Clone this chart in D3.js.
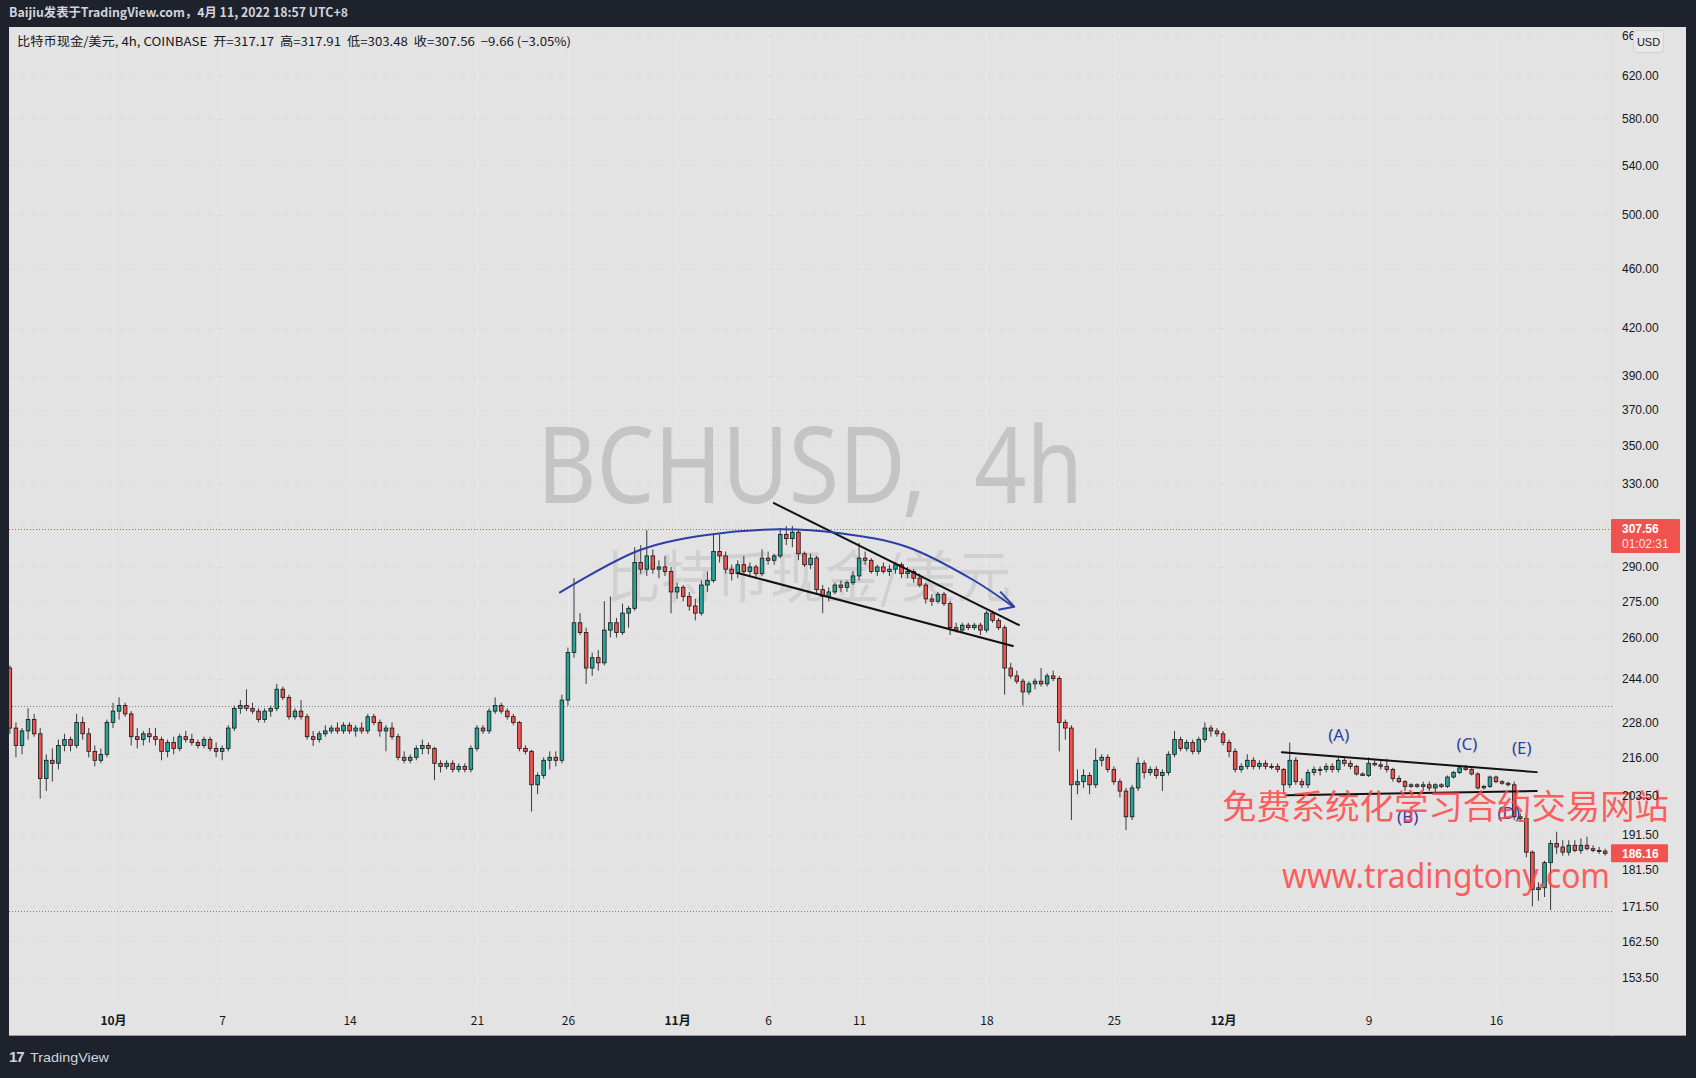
<!DOCTYPE html>
<html><head><meta charset="utf-8">
<script src="https://cdn.jsdelivr.net/npm/d3@7/dist/d3.min.js"></script>
<style>
html,body{margin:0;padding:0;background:#1e222d;}
svg{display:block;}
text.pre{white-space:pre;}
</style></head>
<body>
<svg id="c" width="1696" height="1078"></svg>
<script>
// ---------------- DATA (BCHUSD, 8h bars) ----------------
const barStartUTC = Date.UTC(2019, 8, 25, 8); // first bar
const barHours = 8;
const opens = [248,226,220,225,229,224,209,215,214,220,222,220,228,224,218,215,217,228,232,234,
231,223,222,224,223,222,218,221,219,223,222,221,220,222,219,218,219,226,233,234,
233,232,229,232,233,240,237,230,232,230,223,222,224,225,226,225,227,225,226,225,
230,228,225,226,223,216,215,216,219,220,219,214,213,214,212,213,212,219,226,225,
232,234,232,230,228,219,218,207,210,215,216,215,236,254,266,262,248,252,250,263,
266,262,270,272,292,289,295,289,290,288,279,281,277,273,270,282,284,297,295,289,
287,291,288,290,287,294,293,295,305,303,306,296,291,294,280,277,279,282,281,283,
286,294,293,288,290,288,289,291,287,288,285,282,276,275,278,274,264,263,265,264,
265,263,270,267,264,248,245,243,239,242,243,242,245,244,228,226,207,208,210,207,
215,216,212,208,205,197,206,214,211,212,210,211,217,222,219,221,218,222,226,225,
224,221,218,212,213,215,213,214,213,213,212,207,215,208,207,211,212,212,213,212,
215,214,213,210.5,210,214,213.5,213,212,209,208,206.5,207,206.5,207,206,207,206.5,209.5,211,
212.5,212,210.5,206,206.5,209.5,208,207.5,207,197,196.5,186.5,176,176.5,183.5,189,188,186.5,188.5,187,
188.5,187.5,187,186.8];
const highs = [249,228,226,233,231,226,217,219,222,224,223,231,230,226,220,219,229,235,237,235,
232,226,225,226,226,223,222,223,224,225,224,222,223,223,221,220,227,234,236,240,
235,233,233,234,242,241,238,233,236,231,225,225,227,227,228,228,228,227,228,231,
231,229,227,228,224,218,217,220,222,221,219.5,215,215,215,214,214,220,227,227,233,
237,235,233,231,228.5,220,218.5,211,216,218,218,238,256,285,270,264,254,255,275,277,
268,274,273,299,300,307,298,293,295,290,283,282,279,276,284,288,305,305,297,291,
293,295,292,291,298,297,296,308,309,309,307,297,296,295,282,281,283,284,284,288,
301,297,294,291,292,291,292,292,290,289,287,283,278,279,279,275,266,266,266,266,
266,271,271,268,265,250,247,244,243,244,248,246,247,245,229,227,212,212,211,219,
217,217,213,209,206,207,216,215,213,213,212,218,225,223,222,222,223,228,227,226,
225,222,219,214,217,216,215,215,214,214,212.5,221,216,209,212,213,213,214,214,216,
216,215,213.5,211,216,215,215,215.5,212.5,210,208.5,207.5,207.5,208,208,207.5,207.5,210,211.5,213.5,
213.5,212.5,211,207,210,210,208.5,208,208,198,197.5,187,178,184,190,192.5,190,190,190,190.5,
191,188.5,188,187.5];
const lows = [224,216,217,222,223,202.6,205,208,212,218,218,219,222,216,213,214,216,226,229,230,
220,219,220,221,220,215,216,217,218,221,220,219,219,218,216,215,218,225,231,232,
231,228,228,230,232,236,229,229,229,222,219.8,221,223,224,224,224,224,223,224,224,
227,223,218,222,215,214,214,215,217,217,208.5,211,212,211,211,211,211,218,224,224,
231,231,229,227,218,217,198.6,204,209,212,213,214,234,252,261,242,245,247,249,260,
260,261,264,271,287,286,287,285,286,270,276,275,271,267,269,279,283,292,287,284,
285,287,286,285,286,291,291,294,300,299,293,290,289,278,270,275,278,279,279,282,
284,291,287,286,287,286,287,285,285,283,281,274,273,274,273,261,262,262,263,263,
261,262,266,263,238,244,242,234,238,240,241,241,243,218,222,196,204,206,204,206,
213,211,207,203,193,196,205,209,210,209,205,210,216,218,218,217,217,221,223,223,
220,216,211,211,212,212,212,212,212,211,204,206,207,206,206,210,210,211,211,211,
213,212,210,210,209.5,213,212,211,208,207.5,205,206,206,205,205,204.5,206,206,209,210.5,
211.5,210,205.5,205.5,206,207.5,207,206.5,196,195.5,185,171.5,173,174,170.5,186,185.5,185.5,186.5,186,
187,186.5,186,185.5];
const closes = [226,220,225,229,224,209,215,214,220,222,220,228,224,218,215,217,228,232,234,231,
223,222,224,223,222,218,221,219,223,222,221,220,222,219,218,219,226,233,234,233,
232,229,232,233,240,237,230,232,230,223,222,224,225,226,225,227,225,226,225,230,
228,225,226,223,216,215,216,219,220,219,214,213,214,212,213,212,219,226,225,232,
234,232,230,228,219,218,207,210,215,216,215,236,254,266,262,248,252,250,263,266,
262,270,272,292,289,295,289,290,288,279,281,277,273,270,282,284,297,295,289,287,
291,288,290,287,294,293,295,305,303,306,296,291,294,280,277,279,282,281,283,286,
294,293,288,290,288,289,291,287,288,285,282,276,275,278,274,264,263,265,264,265,
263,270,267,264,248,245,243,239,242,243,242,245,244,228,226,207,208,210,207,215,
216,212,208,205,197,206,214,211,212,210,211,217,222,219,221,218,222,226,225,224,
221,218,212,213,215,213,214,213,213,212,207,215,208,207,211,212,212,213,212,215,
214,213,210.5,210,214,213.5,213,212,209,208,206.5,207,206.5,207,206,207,206.5,209.5,211,212.5,
212,210.5,206,206.5,209.5,208,207.5,207,197,196.5,186.5,176,176.5,183.5,189,188,186.5,188.5,187,188.5,
187.5,187,186.8,186.16];

const priceTicks = [660,620,580,540,500,460,420,390,370,350,330,310,290,275,260,244,228,216,203.5,191.5,181.5,171.5,162.5,153.5];
const tickDates = [[2019,9,1],[2019,9,7],[2019,9,14],[2019,9,21],[2019,9,26],[2019,10,1],[2019,10,6],[2019,10,11],[2019,10,18],[2019,10,25],[2019,11,1],[2019,11,9],[2019,11,16]];
const tickLabels = ["10月","7","14","21","26","11月","6","11","18","25","12月","9","16"];
const lastPrice = 307.56;
const markPrice = 186.16;
const levelLines = [233.7, 170.2];
// annotations in [days since 2019-10-01, price]
const wedgeUpper = [[36.32,320.1],[49.78,265.1]];
const wedgeLower = [[34.34,287.3],[49.45,256.6]];
const triUpper = [[64.23,217.7],[78.24,211.1]];
const triLower = [[64.51,203.7],[78.24,205.0]];
const arcPts = [[24.52,278.6],[28.96,297.7],[32.62,304.7],[36.65,307.4],[39.95,305.5],[43.61,299.2],[47.27,284.2],[49.47,272.7]];
const waveLabels = ["(A)","(B)","(C)","(D)","(E)"];
const wavePts = [[67.36,223.6],[71.15,196.9],[74.4,220.4],[76.7,198.1],[77.42,219.1]];

// ---------------- SCALES ----------------
const DAY = 86400000;
const oct1 = Date.UTC(2019,9,1);
const x = d3.scaleUtc().domain([new Date(oct1), new Date(Date.UTC(2019,11,16))]).range([113,1496]);
const y = d3.scaleLog().domain([620,153.5]).range([76,978]);
const xd = d => x(new Date(oct1 + d*DAY));

const svg = d3.select("#c");
const PL=9, PR=1612, PT=27, PB=1006, PANR=1686, PANB=1036;

// header
svg.append("rect").attr("x",0).attr("y",0).attr("width",1696).attr("height",1078).attr("fill","#1e222d");
svg.append("text").attr("x",9).attr("y",17).attr("fill","#d1d4dc").attr("font-size",12.5).attr("font-weight",600)
  .attr("font-family","'Noto Sans CJK SC','Noto Sans',sans-serif").attr("textLength",339).attr("lengthAdjust","spacingAndGlyphs")
  .text("Baijiu发表于TradingView.com，4月 11, 2022 18:57 UTC+8");
// panel
svg.append("rect").attr("x",PL).attr("y",PT).attr("width",PANR-PL).attr("height",PANB-PT).attr("fill","#e3e3e3");
svg.append("line").attr("x1",PL).attr("x2",PANR).attr("y1",PANB-0.5).attr("y2",PANB-0.5).attr("stroke","#9a9ca3");
svg.append("line").attr("x1",PR+0.5).attr("x2",PR+0.5).attr("y1",PT).attr("y2",PANB).attr("stroke","#dcdcdc");

// grid
const tickDateObjs = tickDates.map(d=>new Date(Date.UTC(d[0],d[1],d[2])));
svg.append("g").selectAll("line").data(tickDateObjs).join("line")
  .attr("x1",d=>Math.round(x(d))+0.5).attr("x2",d=>Math.round(x(d))+0.5).attr("y1",PT).attr("y2",PB)
  .attr("stroke","#e9e9e9").attr("stroke-width",1);
svg.append("g").selectAll("line").data(priceTicks).join("line")
  .attr("x1",PL).attr("x2",PR).attr("y1",d=>Math.round(y(d))+0.5).attr("y2",d=>Math.round(y(d))+0.5)
  .attr("stroke","#ead3d5").attr("stroke-dasharray","5,6").attr("stroke-width",1);

// watermarks
svg.append("text").attr("class","pre").attr("x",537).attr("y",503).attr("fill","#c4c4c4").attr("font-size",106)
  .attr("font-family","'Noto Sans','Open Sans',sans-serif").attr("textLength",546).attr("lengthAdjust","spacingAndGlyphs")
  .text("BCHUSD,  4h");
svg.append("text").attr("x",606).attr("y",597).attr("fill","#d0d0d0").attr("font-size",56)
  .attr("font-family","'Noto Sans CJK SC',sans-serif").attr("textLength",405).attr("lengthAdjust","spacingAndGlyphs")
  .text("比特币现金/美元");

// clip
svg.append("clipPath").attr("id","plot").append("rect").attr("x",PL).attr("y",PT).attr("width",PR-PL).attr("height",PB-PT);
const plot = svg.append("g").attr("clip-path","url(#plot)");

// level lines
plot.selectAll(".lvl").data(levelLines).join("line").attr("class","lvl")
  .attr("x1",PL).attr("x2",PR).attr("y1",d=>Math.round(y(d))+0.5).attr("y2",d=>Math.round(y(d))+0.5)
  .attr("stroke","#7d808a").attr("stroke-dasharray","1,2").attr("stroke-width",1);
plot.append("line").attr("x1",PL).attr("x2",PR).attr("y1",Math.round(y(lastPrice))+0.5).attr("y2",Math.round(y(lastPrice))+0.5)
  .attr("stroke","#ef5350").attr("stroke-dasharray","1,2").attr("stroke-width",1);

// candles
const bars = d3.range(opens.length).map(i=>({t:new Date(barStartUTC + i*barHours*3600000),o:opens[i],h:highs[i],l:lows[i],c:closes[i]}));
const cg = plot.append("g");
cg.selectAll(".w").data(bars).join("line").attr("class","w")
  .attr("x1",d=>x(d.t)).attr("x2",d=>x(d.t)).attr("y1",d=>y(d.h)).attr("y2",d=>y(d.l))
  .attr("stroke","#3a3a3a").attr("stroke-width",1);
const bw = 3.6;
cg.selectAll(".b").data(bars).join("rect").attr("class","b")
  .attr("x",d=>x(d.t)-bw/2).attr("width",bw)
  .attr("y",d=>y(Math.max(d.o,d.c))).attr("height",d=>Math.max(1,Math.abs(y(d.o)-y(d.c))))
  .attr("fill",d=>d.c>=d.o?"#26a69a":"#ef5350").attr("stroke","#151515").attr("stroke-width",0.8);

// annotations
const seg = (pts,col,w)=>plot.append("line").attr("x1",xd(pts[0][0])).attr("y1",y(pts[0][1]))
  .attr("x2",xd(pts[1][0])).attr("y2",y(pts[1][1])).attr("stroke",col).attr("stroke-width",w).attr("stroke-linecap","round");
seg(wedgeUpper,"#111",2); seg(wedgeLower,"#111",2); seg(triUpper,"#111",2); seg(triLower,"#111",2);
const arcLine = d3.line().x(d=>xd(d[0])).y(d=>y(d[1])).curve(d3.curveCatmullRom.alpha(0.5));
plot.append("path").attr("d",arcLine(arcPts)).attr("fill","none").attr("stroke","#2b3fa6").attr("stroke-width",2);
const tip = arcPts[arcPts.length-1];
const tx = xd(tip[0]), ty = y(tip[1]);
plot.append("path").attr("d",`M${tx-13},${ty-15}L${tx+1},${ty}L${tx-15},${ty+3}`)
  .attr("fill","none").attr("stroke","#2b3fa6").attr("stroke-width",2).attr("stroke-linejoin","round");

plot.selectAll(".wl").data(wavePts).join("text").attr("class","wl")
  .attr("x",d=>xd(d[0])).attr("y",d=>y(d[1])).attr("dy","0.35em").attr("text-anchor","middle")
  .attr("fill","#2c3f9e").attr("font-size",17).attr("font-family","'Noto Sans',sans-serif")
  .text((d,i)=>waveLabels[i]);

// red promo text
svg.append("text").attr("x",1222).attr("y",819).attr("fill","rgba(255,70,70,0.85)").attr("font-size",34)
  .attr("font-family","'Noto Sans CJK SC',sans-serif").attr("textLength",447).attr("lengthAdjust","spacingAndGlyphs")
  .text("免费系统化学习合约交易网站");
svg.append("text").attr("x",1282).attr("y",888).attr("fill","rgba(255,70,70,0.85)").attr("font-size",34)
  .attr("font-family","'Noto Sans',sans-serif").attr("textLength",328).attr("lengthAdjust","spacingAndGlyphs")
  .text("www.tradingtony.com");

// axes
const fmt = d3.format(".2f");
const ya = svg.append("g").attr("transform",`translate(${PR},0)`)
  .call(d3.axisRight(y).tickValues(priceTicks).tickFormat(fmt).tickSize(0).tickPadding(10));
ya.select(".domain").remove();
ya.selectAll("text").attr("font-size",12).attr("fill","#131722").attr("font-family","'Liberation Sans',Arial,sans-serif");

const xa = svg.append("g").attr("transform",`translate(0,${PB+2})`)
  .call(d3.axisBottom(x).tickValues(tickDateObjs).tickFormat((d,i)=>tickLabels[i]).tickSize(0).tickPadding(8));
xa.select(".domain").remove();
xa.selectAll("text").attr("font-size",12).attr("fill","#131722").attr("font-family","'Noto Sans CJK SC','Liberation Sans',sans-serif")
  .attr("font-weight",(d,i)=>tickLabels[i].includes("月")?600:400);

// price boxes
const lpY = y(lastPrice);
svg.append("rect").attr("x",PR-1).attr("y",lpY-10).attr("width",69).attr("height",34).attr("fill","#ef5350").attr("rx",1);
svg.append("text").attr("x",PR+10).attr("y",lpY).attr("dy","0.35em").attr("fill","#fff").attr("font-size",12).attr("font-weight",600)
  .attr("font-family","'Liberation Sans',Arial,sans-serif").text(fmt(lastPrice));
svg.append("text").attr("x",PR+10).attr("y",lpY+15).attr("dy","0.35em").attr("fill","#fde3e3").attr("font-size",12)
  .attr("font-family","'Liberation Sans',Arial,sans-serif").text("01:02:31");
const mpY = y(markPrice);
svg.append("rect").attr("x",PR-1).attr("y",mpY-9).attr("width",57).attr("height",18).attr("fill","#ef5350").attr("rx",1);
svg.append("text").attr("x",PR+10).attr("y",mpY).attr("dy","0.35em").attr("fill","#fff").attr("font-size",12).attr("font-weight",600)
  .attr("font-family","'Liberation Sans',Arial,sans-serif").text(fmt(markPrice));

// USD box
svg.append("rect").attr("x",1633.5).attr("y",30.5).attr("width",30).attr("height",22).attr("rx",3).attr("fill","#e8e8e8").attr("stroke","#d2d2d2");
svg.append("text").attr("x",1648.5).attr("y",42).attr("dy","0.35em").attr("text-anchor","middle").attr("fill","#131722").attr("font-size",11)
  .attr("font-family","'Liberation Sans',Arial,sans-serif").text("USD");

// legend
svg.append("text").attr("class","pre").attr("x",17).attr("y",46).attr("fill","#131722").attr("font-size",12)
  .attr("font-family","'Noto Sans CJK SC','Noto Sans',sans-serif").attr("textLength",554).attr("lengthAdjust","spacingAndGlyphs")
  .text("比特币现金/美元, 4h, COINBASE  开=317.17  高=317.91  低=303.48  收=307.56  −9.66 (−3.05%)");

// footer logo
const fg = svg.append("g").attr("transform","translate(9,1057)");
fg.append("text").attr("x",0).attr("y",5).attr("fill","#d1d4dc").attr("font-size",15).attr("font-weight",900)
  .attr("font-family","'Liberation Sans',Arial,sans-serif").attr("letter-spacing",-1).text("17");
fg.append("text").attr("x",21).attr("y",5).attr("fill","#d1d4dc").attr("font-size",13)
  .attr("font-family","'Liberation Sans',Arial,sans-serif").attr("textLength",79).attr("lengthAdjust","spacingAndGlyphs").text("TradingView");
</script>
</body></html>
